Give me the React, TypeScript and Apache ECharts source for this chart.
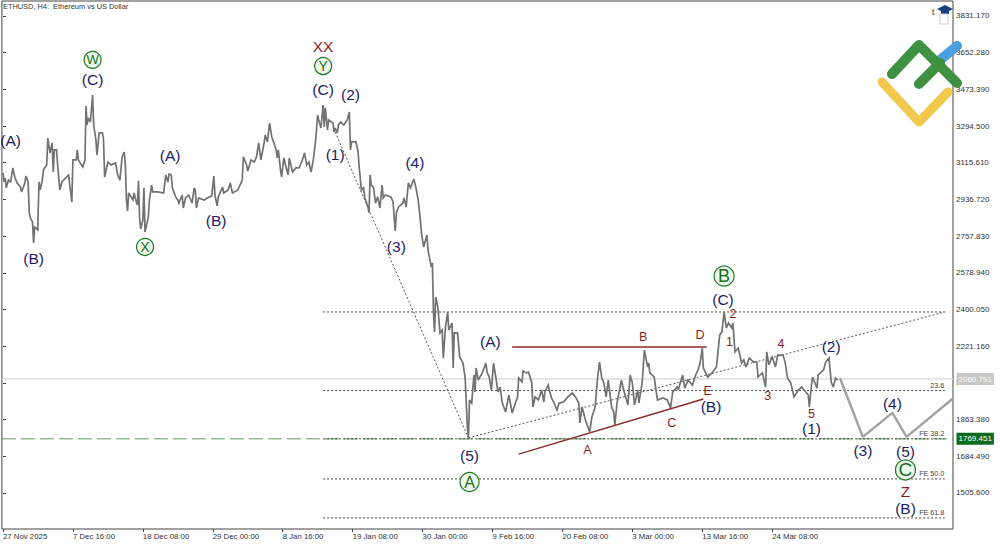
import React, { useEffect, useRef } from "react";
import * as echarts from "echarts";

const priceTicks = [3831.17, 3652.28, 3473.39, 3294.5, 3115.61, 2936.72, 2757.83, 2578.94, 2400.05, 2221.16, 2042.27, 1863.38, 1684.49, 1505.6];
const timeTickBars = [0, 64, 128, 192, 256, 320, 384, 448, 512, 576, 640, 704];
const timeTickLabels = ["27 Nov 2025", "7 Dec 16:00", "18 Dec 08:00", "29 Dec 00:00", "8 Jan 16:00", "19 Jan 08:00", "30 Jan 00:00", "9 Feb 16:00", "20 Feb 08:00", "3 Mar 00:00", "13 Mar 16:00", "24 Mar 08:00"];

const novDec = [[0,3066],[1,3022],[2,3041],[3,2993],[5,3031],[7,3022],[9,3090],[11,3041],[13,3017],[16,2997],[17,2973],[20,3017],[21,3051],[23,3022],[24,2875],[25,2846],[27,2827],[28,2724],[29,2802],[32,2788],[32,2846],[33,3022],[34,2983],[36,3031],[37,3080],[40,3105],[41,3236],[43,3163],[45,3212],[46,3070],[47,3178],[49,3178],[50,3105],[52,2983],[54,3022],[58,3046],[60,3056],[63,2924],[64,3129],[67,3129],[68,3178],[69,3129],[73,3095],[75,3129],[76,3392],[77,3300],[78,3334],[80,3314],[82,3446],[83,3300],[85,3227],[86,3153],[88,3261],[91,3261],[92,3227],[93,3046],[96,3119],[99,3105],[103,3114],[105,3056],[107,3031],[109,3144],[111,3168],[112,3105],[113,2934],[114,2880],[115,2968],[119,2934],[120,2968],[121,2944],[123,2910],[124,3027],[125,2846],[126,2793],[128,2836],[129,2993],[130,2778],[133,2851],[134,2934],[136,3007],[137,2973],[142,2973],[147,2968],[149,3056],[151,3022],[152,3061]];
const decJan = [[154,3056],[155,2993],[158,2949],[160,2934],[161,2919],[164,2958],[165,2895],[167,2944],[170,2958],[173,2919],[175,2993],[176,2983],[177,2895],[179,2944],[184,2934],[187,2944],[191,2954],[193,3051],[194,2958],[196,2905],[197,2949],[201,2997],[202,2968],[206,2983],[208,3017],[210,2968],[215,2983],[219,3031],[220,3144],[223,3105],[224,3075],[227,3129],[230,3119],[232,3144],[234,3212],[236,3129],[239,3212],[240,3251],[242,3217],[244,3309],[246,3241],[248,3212],[250,3178],[251,3139],[252,3178],[254,3080],[255,3046],[257,3139],[259,3095],[261,3056],[262,3139],[265,3070],[268,3090],[271,3090],[274,3129],[276,3163],[278,3105],[280,3119],[282,3070],[284,3129],[286,3217],[288,3348],[289,3324],[291,3285],[293,3397],[294,3290],[295,3383],[297,3275],[298,3324],[302,3309],[303,3265],[304,3285],[306,3261],[307,3300]];
const janFeb = [[309,3314],[312,3300],[315,3324],[317,3363],[318,3178],[319,3217],[323,3217],[325,3168],[326,3095],[328,2983],[330,2993],[331,2949],[334,2900],[335,2871],[336,3056],[337,3007],[339,2997],[341,2919],[343,2949],[345,2895],[347,3007],[348,2944],[350,2958],[355,2949],[357,2924],[359,2783],[360,2871],[362,2900],[366,2919],[367,2944],[369,2900],[371,3017],[373,2993],[376,3036],[378,2993],[380,2934],[382,2836],[383,2773],[385,2705],[388,2763],[389,2690],[392,2607],[393,2627],[394,2383],[395,2290],[396,2461],[398,2412],[400,2286],[402,2300],[403,2164],[405,2315],[407,2388],[408,2300],[411,2334],[412,2115],[413,2286],[416,2286],[418,2169],[421,2139],[423,2066],[425,1827],[426,1774],[427,1959],[429,1944],[431,2081],[432,1998],[433,2115],[435,2056],[439,2095],[442,2139],[443,2095],[445,2071],[447,2008],[449,2139],[451,2071],[453,1998]];
const febMar = [[455,2022],[457,1944],[460,1900],[463,1983],[466,1896],[469,1944],[471,1974],[472,2066],[475,2047],[476,2100],[479,2091],[481,2095],[484,2042],[485,1925],[487,1974],[490,1959],[493,2008],[495,1949],[496,1998],[499,2032],[502,1969],[504,1949],[507,1910],[509,1944],[513,1949],[517,1974],[521,1993],[524,1974],[527,1944],[528,1847],[530,1925],[533,1862],[537,1803],[539,1876],[542,1925],[544,2056],[546,2144],[548,2066],[550,2042],[552,1974],[554,2056],[557,1925],[559,1900],[560,1837],[562,1944],[566,2056],[568,2008],[572,1935],[574,2081],[576,2042],[578,1935],[581,2008],[582,1944],[585,2042],[587,2202],[590,2120],[591,2139],[592,2091],[596,2071],[599,1959],[604,1969]];
const marApr = [[608,1959],[611,1920],[613,1998],[617,2022],[618,2008],[622,2081],[624,2017],[627,2056],[631,2032],[634,2081],[636,2105],[638,2139],[640,2212],[641,2115],[645,2071],[649,2091],[653,2120],[656,2276],[658,2290],[660,2388],[662,2310],[664,2334],[667,2310],[668,2334],[670,2193],[673,2212],[676,2139],[678,2154],[680,2120],[683,2164],[687,2144],[690,2144],[691,2071],[695,2091],[698,2022],[699,2193],[701,2130],[704,2169],[707,2120],[709,2178],[714,2178],[716,2139],[718,2066],[721,2042],[724,1974],[728,2008],[731,2022],[734,2003],[737,1983],[738,1925],[740,2032],[741,2071],[745,2017],[746,2081],[751,2105],[753,2144],[756,2164],[758,2047],[760,2022],[762,2066],[764,2056]];
const forecast = [[766,2066],[787,1779],[814,1896],[827,1779],[870,1969]];

const lastPrice = 2060.791;
const supportPrice = 1769.451;
const fibLevels = [2388, 2005, supportPrice, 1574, 1384];
const fibTags = [["23.6", 2005], ["FE 38.2", supportPrice], ["FE 50.0", 1574], ["FE 61.8", 1384]];
const dottedTrends = [[[304, 3265], [426, 1774]], [[426, 1774], [862, 2388]]];
const triangleLines = [[[466, 2217], [644, 2217]], [[472, 1695], [641, 1964]]];

const navyLabels = [["(A)",7,3222],["(B)",28,2651],["(C)",82,3519],["(A)",153,3149],["(B)",195,2832],["(C)",293,3475],["(2)",318,3446],["(1)",304,3158],["(4)",377,3119],["(3)",360,2705],["(A)",446,2242],["(5)",427,1686],["(B)",648,1925],["(C)",659,2447],["(2)",758,2222],["(1)",740,1822],["(3)",787,1715],["(4)",814,1944],["(5)",826,1710],["(B)",826,1432]];
const redLabels = [["B",586,2266],["D",638,2276],["A",535,1715],["C",612,1847],["E",645,2003],["2",668,2378],["1",665,2242],["4",712,2232],["3",700,1979],["5",740,1891]];
const bigRedLabels = [["XX",293,3680],["Z",826,1511]];
const circledLabels = [["W",82,3617,17,13],["X",130,2705,17,14],["Y",293,3587,17,14],["A",427,1559,19,16],["B",660,2563,20,18],["C",826,1618,20,19]];

const pricePath = [...novDec, ...decJan, ...janFeb, ...febMar, ...marApr];
const barMin = -1;
const barMax = 869.5;
const FONT = "Liberation Sans, Arial, sans-serif";

const textSeries = (rows: any[], color: string, fontSize: number) => ({
  type: "scatter", silent: true, symbolSize: 1, itemStyle: { color: "transparent", opacity: 1 }, z: 10,
  data: rows.map((r) => ({ value: [r[1], r[2]], name: r[0] })),
  label: { show: true, position: "inside", formatter: (p: any) => p.name, color, fontSize, fontFamily: FONT },
});
const segment = (points: number[][], lineStyle: any, z = 3) => ({
  type: "line", silent: true, showSymbol: false, symbol: "none", z, data: points, lineStyle,
});

export default function App() {
  const ref = useRef<HTMLDivElement>(null);
  useEffect(() => {
    document.body.style.margin = "0";
    const chart = echarts.init(ref.current!, null, { renderer: "svg" });
    chart.setOption({
      animation: false,
      backgroundColor: "#ffffff",
      grid: { left: 1, right: 47, top: 1, bottom: 16, show: true, borderColor: "#444444", borderWidth: 1, backgroundColor: "transparent" },
      xAxis: {
        type: "value", min: barMin, max: barMax, splitLine: { show: false }, axisLine: { show: false },
        axisTick: { show: true, length: 3, lineStyle: { color: "#444444" }, customValues: timeTickBars },
        axisLabel: {
          show: true, customValues: timeTickBars, align: "left", margin: 3, color: "#333333", fontSize: 7.8, fontFamily: FONT,
          formatter: (v: number) => timeTickLabels[timeTickBars.indexOf(v)] ?? "",
        },
      },
      yAxis: {
        type: "value", position: "right", min: 1330, max: 3904, splitLine: { show: false }, axisLine: { show: false },
        axisTick: { show: true, length: 3, lineStyle: { color: "#444444" }, customValues: priceTicks },
        axisLabel: {
          show: true, customValues: priceTicks, margin: 3, color: "#333333", fontSize: 8, fontFamily: FONT,
          formatter: (v: number) => v.toFixed(3),
        },
      },
      graphic: [
        { type: "text", x: 3, y: 3, z: 20, style: { text: "ETHUSD, H4:  Ethereum vs US Dollar", fill: "#333333", font: `7.4px ${FONT}` } },
        { type: "text", x: 932, y: 7, z: 20, style: { text: "t", fill: "#333333", font: `8.5px ${FONT}` } },
        { type: "polygon", z: 20, shape: { points: [[937, 9], [945, 5], [953, 9], [945, 13]] }, style: { fill: "#1c3f7c" } },
        { type: "rect", z: 20, shape: { x: 941, y: 11, width: 8, height: 3 }, style: { fill: "#1c3f7c" } },
        { type: "rect", z: 20, shape: { x: 940, y: 14, width: 8, height: 10 }, style: { fill: "#ffffff", stroke: "#cccccc", lineWidth: 1 } },
        { type: "polyline", z: 21, shape: { points: [[882, 82], [919, 122], [948, 92]] }, style: { stroke: "#f2c94c", lineWidth: 9, lineCap: "round", lineJoin: "round", fill: "none" } },
        { type: "polyline", z: 21, shape: { points: [[940, 60], [957, 46]] }, style: { stroke: "#4a9fe0", lineWidth: 10, lineCap: "round", fill: "none" } },
        { type: "polyline", z: 22, shape: { points: [[892, 74], [919, 45], [957, 83]] }, style: { stroke: "#3f9142", lineWidth: 10, lineCap: "round", lineJoin: "round", fill: "none" } },
        { type: "polyline", z: 22, shape: { points: [[919, 84], [940, 63]] }, style: { stroke: "#3f9142", lineWidth: 10, lineCap: "round", fill: "none" } },
      ],
      series: [
        segment([[barMin, lastPrice], [barMax, lastPrice]], { color: "#dcdcdc", width: 1.5 }, 1),
        segment([[barMin, supportPrice], [barMax, supportPrice]], { color: "#5f9a5f", width: 1, type: [14, 5] }, 1),
        ...fibLevels.map((lv) => segment([[293, lv], [862, lv]], { color: "#333333", width: 0.9, type: [2, 2] }, 2)),
        ...dottedTrends.map((t) => segment(t, { color: "#444444", width: 0.9, type: [2, 2] }, 2)),
        ...triangleLines.map((t) => segment(t, { color: "#8a2a2a", width: 1.5 }, 4)),
        segment(pricePath, { color: "#727272", width: 1.7, join: "miter", miterLimit: 3 }, 3),
        segment(forecast, { color: "#a3a3a3", width: 2.5 }, 3),
        textSeries(navyLabels, "#1c1c66", 15.5),
        textSeries(redLabels, "#8a1f1f", 12.5),
        textSeries(bigRedLabels, "#8a1f1f", 15.5),
        {
          type: "scatter", silent: true, z: 9,
          symbol: "circle",
          symbolSize: (_v: any, p: any) => circledLabels[p.dataIndex][3] as number,
          itemStyle: { color: "#edf8ed", borderColor: "#1e7a22", borderWidth: 1.2, opacity: 1 },
          data: circledLabels.map((r) => ({
            value: [r[1], r[2]], name: r[0],
            label: { fontSize: r[4] as number },
          })),
          label: { show: true, position: "inside", formatter: (p: any) => p.name, color: "#1a6e1e", fontFamily: FONT },
        },
        {
          type: "scatter", silent: true, symbolSize: 1, itemStyle: { color: "transparent", opacity: 1 }, z: 10,
          data: fibTags.map((r) => ({ value: [862, (r[1] as number) + 26], name: r[0] })),
          label: { show: true, position: "left", distance: 0, formatter: (p: any) => p.name, color: "#444444", fontSize: 7.2, fontFamily: FONT },
        },
        {
          type: "scatter", silent: true, symbolSize: 1, itemStyle: { color: "transparent", opacity: 1 }, z: 12,
          data: [
            { value: [barMax, lastPrice], label: { backgroundColor: "#c8c8c8", color: "#ffffff" } },
            { value: [barMax, supportPrice], label: { backgroundColor: "#0b6b1f", color: "#ffffff" } },
          ],
          label: {
            show: true, position: "right", distance: 3, padding: [2, 2, 2, 2], fontSize: 8, fontFamily: FONT,
            formatter: (p: any) => (p.value[1] as number).toFixed(3),
          },
        },
      ],
    });
    return () => chart.dispose();
  }, []);
  return <div ref={ref} style={{ width: 1000, height: 545 }} />;
}
